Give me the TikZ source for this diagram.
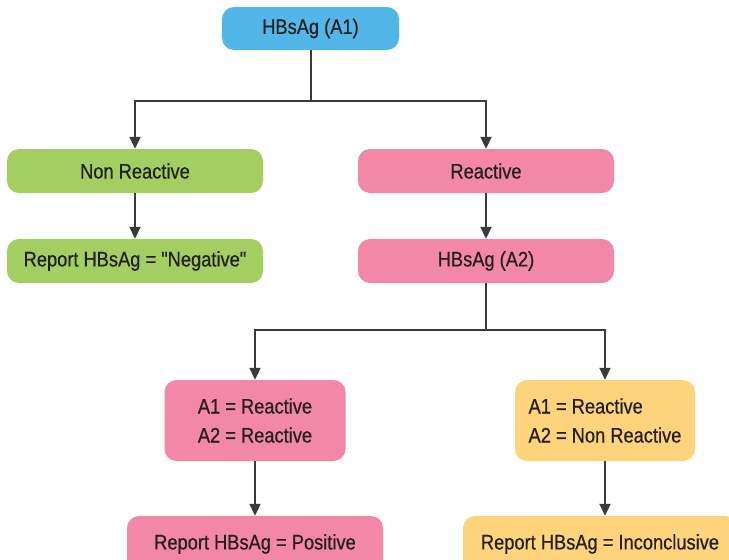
\documentclass[tikz,border=0pt]{standalone}
\usepackage{fontspec}
\setmainfont[FakeStretch=0.87,FakeBold=0.5]{Liberation Sans}
% same face without the TeX mapping, for straight double quotes
\newfontfamily\straightq[FakeStretch=0.87,FakeBold=0.5]{Liberation Sans}
\newcommand{\dq}{{\straightq\symbol{34}}}
\usetikzlibrary{arrows.meta}
\definecolor{cblue}{HTML}{52B7E8}
\definecolor{cgreen}{HTML}{A3CF62}
\definecolor{cpink}{HTML}{F287A7}
\definecolor{cyellow}{HTML}{FDD47B}
\definecolor{cline}{HTML}{3A3A3A}
\definecolor{ctext}{HTML}{231F20}
\tikzset{
  box/.style={rectangle, rounded corners=12pt, draw=none, text=ctext,
    font=\fontsize{21}{29}\selectfont, inner sep=0pt},
  link/.style={draw=cline, line width=2pt},
  arr/.style={link, -{Triangle[width=11pt,length=12pt]}},
}
\begin{document}
\begin{tikzpicture}[x=1pt,y=-1pt]
\useasboundingbox (0,0) rectangle (729,560);
\clip (0,0) rectangle (729,560);
\fill[white] (0,0) rectangle (729,560);

% first test
\node[box, fill=cblue, minimum width=177pt, minimum height=43pt] (a1) at (310.5,28.5) {HBsAg (A1)};
\node[box, fill=cgreen, minimum width=256pt, minimum height=44pt] (nr) at (135,171) {Non Reactive};
\node[box, fill=cpink, minimum width=256pt, minimum height=44pt] (re) at (486,171) {Reactive};
\node[box, fill=cgreen, minimum width=256pt, minimum height=44pt] (neg) at (135,261) {Report HBsAg = \dq Negative\dq};
\node[box, fill=cpink, minimum width=256pt, minimum height=44pt] (a2) at (486,261) {HBsAg (A2)};

% second test outcomes
\node[box, fill=cpink, minimum width=181pt, minimum height=81pt, align=left] (rr) at (255,420.5) {A1 = Reactive\\A2 = Reactive};
\node[box, fill=cyellow, minimum width=180pt, minimum height=81pt, align=left] (rn) at (605,420.5) {A1 = Reactive\\A2 = Non Reactive};
\node[box, fill=cpink, minimum width=256pt, minimum height=56pt] (pos) at (255,544) {Report HBsAg = Positive};
\node[box, fill=cyellow, minimum width=274pt, minimum height=56pt] (inc) at (600,544) {Report HBsAg = Inconclusive};

% connectors
\coordinate (j1) at (310.5,101);
\coordinate (j2) at (486,330);
\draw[link] (a1.south) -- (j1);
\draw[arr] (j1) -| (nr.north);
\draw[arr] (j1) -| (re.north);
\draw[arr] (nr.south) -- (neg.north);
\draw[arr] (re.south) -- (a2.north);
\draw[link] (a2.south) -- (j2);
\draw[arr] (j2) -| (rr.north);
\draw[arr] (j2) -| (rn.north);
\draw[arr] (rr.south) -- (pos.north);
\draw[arr] (rn.south) -- (rn.south |- inc.north);
\end{tikzpicture}
\end{document}
